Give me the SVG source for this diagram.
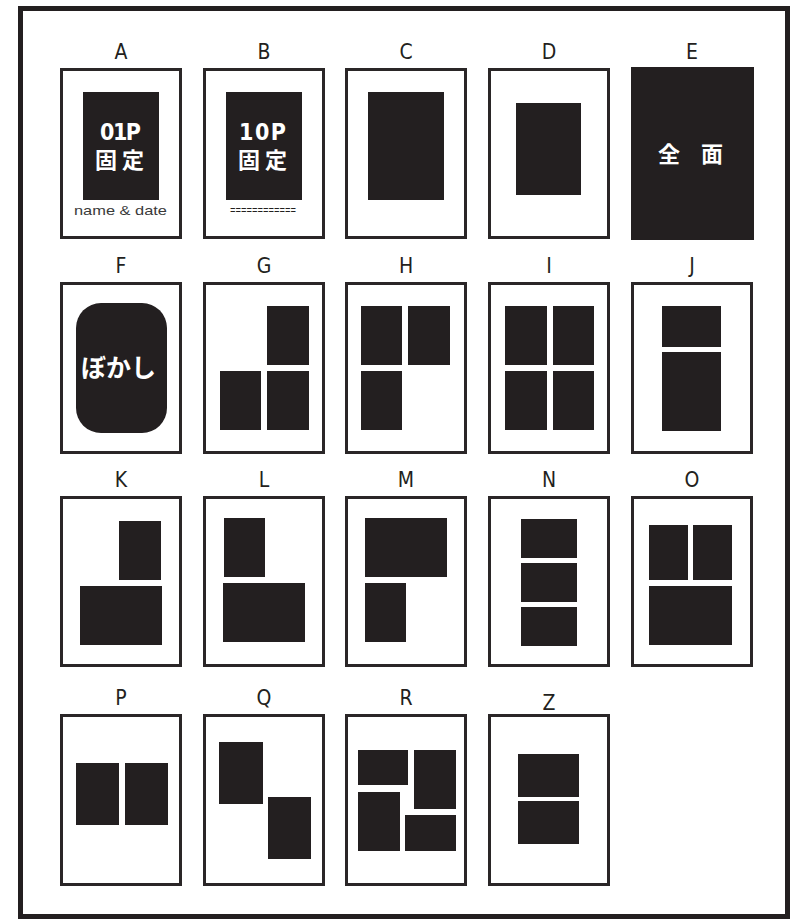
<svg xmlns="http://www.w3.org/2000/svg" width="796" height="919" viewBox="0 0 796 919">
<style>
.card{fill:#fff;stroke:#2a2627;stroke-width:3}
.blk{fill:#231f20}
.lbl{font-family:"DejaVu Sans Condensed","DejaVu Sans",sans-serif;font-stretch:condensed;font-size:21px;fill:#231f20;text-anchor:middle}
.wt{fill:#fff;font-weight:bold}
.num{font-family:"DejaVu Sans Condensed","DejaVu Sans",sans-serif;font-stretch:condensed;font-size:23px}
.cjk{font-family:"Noto Sans CJK JP",sans-serif}
</style>
<rect x="0" y="0" width="796" height="919" fill="#fff"/>
<rect x="20.5" y="8.5" width="767" height="908" fill="none" stroke="#231f20" stroke-width="5"/>

<g id="A">
<text class="lbl" x="121" y="59">A</text>
<rect class="card" x="61.5" y="69.5" width="119" height="168"/>
<rect class="blk" x="83" y="92" width="76" height="108"/>
<text class="wt num" x="100" y="139.5" textLength="41" lengthAdjust="spacing">01P</text>
<text class="wt cjk" x="95" y="168" font-size="22" letter-spacing="5">固定</text>
<text x="74" y="215" font-family="'Liberation Sans',sans-serif" font-size="13.5" fill="#3a3a3a" textLength="93" lengthAdjust="spacingAndGlyphs">name &amp; date</text>
</g>

<g id="B">
<text class="lbl" x="264" y="59">B</text>
<rect class="card" x="204.5" y="69.5" width="119" height="168"/>
<rect class="blk" x="226" y="92" width="76" height="108"/>
<text class="wt num" x="239" y="139.5" textLength="47" lengthAdjust="spacing">10P</text>
<text class="wt cjk" x="238" y="168" font-size="22" letter-spacing="5">固定</text>
<text x="230" y="214" font-family="'Liberation Mono',monospace" font-size="12" fill="#231f20" textLength="66" lengthAdjust="spacingAndGlyphs">============</text>
</g>

<g id="C">
<text class="lbl" x="406" y="59">C</text>
<rect class="card" x="346.5" y="69.5" width="119" height="168"/>
<rect class="blk" x="368" y="92" width="76" height="108"/>
</g>

<g id="D">
<text class="lbl" x="549" y="59">D</text>
<rect class="card" x="489.5" y="69.5" width="119" height="168"/>
<rect class="blk" x="516" y="103" width="65" height="92"/>
</g>

<g id="E">
<text class="lbl" x="692" y="59">E</text>
<rect class="blk" x="631" y="67" width="123" height="173"/>
<text class="wt cjk" x="658" y="162" font-size="22" word-spacing="16">全 面</text>
</g>

<g id="F">
<text class="lbl" x="121" y="273">F</text>
<rect class="card" x="61.5" y="283.5" width="119" height="169"/>
<rect class="blk" x="76" y="303" width="91" height="130" rx="25" ry="25"/>
<text class="wt cjk" x="81" y="377" font-size="25">ぼかし</text>
</g>

<g id="G">
<text class="lbl" x="264" y="273">G</text>
<rect class="card" x="204.5" y="283.5" width="119" height="169"/>
<rect class="blk" x="267" y="306" width="42" height="59"/>
<rect class="blk" x="220" y="371" width="41" height="59"/>
<rect class="blk" x="267" y="371" width="42" height="59"/>
</g>

<g id="H">
<text class="lbl" x="406" y="273">H</text>
<rect class="card" x="346.5" y="283.5" width="119" height="169"/>
<rect class="blk" x="361" y="306" width="41" height="59"/>
<rect class="blk" x="408" y="306" width="42" height="59"/>
<rect class="blk" x="361" y="371" width="41" height="59"/>
</g>

<g id="I">
<text class="lbl" x="549" y="273">I</text>
<rect class="card" x="489.5" y="283.5" width="119" height="169"/>
<rect class="blk" x="505" y="306" width="42" height="59"/>
<rect class="blk" x="553" y="306" width="41" height="59"/>
<rect class="blk" x="505" y="371" width="42" height="59"/>
<rect class="blk" x="553" y="371" width="41" height="59"/>
</g>

<g id="J">
<text class="lbl" x="692" y="273">J</text>
<rect class="card" x="632.5" y="283.5" width="119" height="169"/>
<rect class="blk" x="662" y="306" width="59" height="41"/>
<rect class="blk" x="662" y="352" width="59" height="79"/>
</g>

<g id="K">
<text class="lbl" x="121" y="487">K</text>
<rect class="card" x="61.5" y="497.5" width="119" height="168"/>
<rect class="blk" x="119" y="521" width="42" height="59"/>
<rect class="blk" x="80" y="586" width="82" height="59"/>
</g>

<g id="L">
<text class="lbl" x="264" y="487">L</text>
<rect class="card" x="204.5" y="497.5" width="119" height="168"/>
<rect class="blk" x="224" y="518" width="41" height="59"/>
<rect class="blk" x="223" y="583" width="82" height="59"/>
</g>

<g id="M">
<text class="lbl" x="406" y="487">M</text>
<rect class="card" x="346.5" y="497.5" width="119" height="168"/>
<rect class="blk" x="365" y="518" width="82" height="59"/>
<rect class="blk" x="365" y="583" width="41" height="59"/>
</g>

<g id="N">
<text class="lbl" x="549" y="487">N</text>
<rect class="card" x="489.5" y="497.5" width="119" height="168"/>
<rect class="blk" x="521" y="519" width="56" height="39"/>
<rect class="blk" x="521" y="563" width="56" height="39"/>
<rect class="blk" x="521" y="607" width="56" height="39"/>
</g>

<g id="O">
<text class="lbl" x="692" y="487">O</text>
<rect class="card" x="632.5" y="497.5" width="119" height="168"/>
<rect class="blk" x="649" y="525" width="39" height="55"/>
<rect class="blk" x="693" y="525" width="39" height="55"/>
<rect class="blk" x="649" y="586" width="83" height="59"/>
</g>

<g id="P">
<text class="lbl" x="121" y="705">P</text>
<rect class="card" x="61.5" y="715.5" width="119" height="169"/>
<rect class="blk" x="76" y="763" width="43" height="62"/>
<rect class="blk" x="125" y="763" width="43" height="62"/>
</g>

<g id="Q">
<text class="lbl" x="264" y="705">Q</text>
<rect class="card" x="204.5" y="715.5" width="119" height="169"/>
<rect class="blk" x="219" y="742" width="44" height="62"/>
<rect class="blk" x="268" y="797" width="43" height="62"/>
</g>

<g id="R">
<text class="lbl" x="406" y="705">R</text>
<rect class="card" x="346.5" y="715.5" width="119" height="169"/>
<rect class="blk" x="358" y="750" width="50" height="35"/>
<rect class="blk" x="414" y="750" width="42" height="59"/>
<rect class="blk" x="358" y="792" width="42" height="59"/>
<rect class="blk" x="405" y="815" width="51" height="36"/>
</g>

<g id="Z">
<text class="lbl" x="549" y="710">Z</text>
<rect class="card" x="489.5" y="715.5" width="119" height="169"/>
<rect class="blk" x="518" y="754" width="61" height="43"/>
<rect class="blk" x="518" y="801" width="61" height="43"/>
</g>

<g id="connectors"></g>
</svg>
